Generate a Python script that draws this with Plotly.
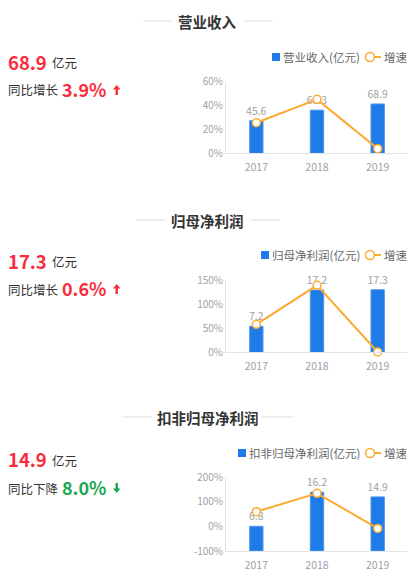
import plotly.graph_objects as go

# the page body keeps its default 8px margin, so the figure starts at (8, 8)
OFF = 8
W, H = 415 - OFF, 572 - OFF

years = ["2017", "2018", "2019"]

# 营业收入
revenue = [45.6, 60.3, 68.9]
revenue_growth = [25.6, 45.2, 3.9]
# 归母净利润
profit = [7.2, 17.2, 17.3]
profit_growth = [58.1, 139.0, 0.6]
# 扣非归母净利润
profit_ex = [6.8, 16.2, 14.9]
profit_ex_growth = [60.0, 135.0, -8.0]

titles = ["营业收入", "归母净利润", "扣非归母净利润"]
bar_names = ["营业收入(亿元)", "归母净利润(亿元)", "扣非归母净利润(亿元)"]
headline = ["68.9", "17.3", "14.9"]
change_word = ["同比增长", "同比增长", "同比下降"]
change_val = ["3.9%", "0.6%", "8.0%"]

FONT = "Noto Sans CJK SC"
BLUE = "#1f7be8"
ORANGE = "#fbab2f"
RED = "#fa2c3c"
GREEN = "#19a84f"
GREY = "#a0a0a8"

def px_x(x):
    return (x - OFF) / W

def px_y(y):
    return 1 - (y - OFF) / H

# pixel layout of each block (screen pixels)
blocks = [
    dict(title_y=21, lines=((143, 172), (244, 273)), legend_y=57, sq_x=272,
         plot=(81.7, 153.3), big_y=62, sub_y=90,
         prange=[0, 60], pticks=[0, 20, 40, 60], brange=[0, 100]),
    dict(title_y=220, lines=((136, 165), (251, 280)), legend_y=255, sq_x=261,
         plot=(280, 352.3), big_y=260.7, sub_y=289,
         prange=[0, 150], pticks=[0, 50, 100, 150], brange=[0, 20]),
    dict(title_y=417, lines=((123, 152), (262, 293)), legend_y=453, sq_x=238,
         plot=(477.3, 551), big_y=459, sub_y=488,
         prange=[-100, 200], pticks=[-100, 0, 100, 200], brange=[0, 20.3]),
]

bars = [revenue, profit, profit_ex]
growth = [revenue_growth, profit_growth, profit_ex_growth]
up = [True, True, False]

fig = go.Figure()
layout = dict(
    width=W, height=H, margin=dict(l=0, r=0, t=0, b=0, autoexpand=False),
    paper_bgcolor="white", plot_bgcolor="white", showlegend=False,
    font=dict(family=FONT, color="#333"),
    barmode="group", annotations=[], shapes=[],
)

def note(text, x, y, size, color, xanchor="left"):
    return dict(text=text, x=px_x(x), y=px_y(y), xref="paper", yref="paper",
                xanchor=xanchor, yanchor="middle", showarrow=False,
                font=dict(size=size, color=color))

def arrow(cx, cy, pointing_up, color):
    # small bold arrow: triangle head plus a short stem
    s = -1 if pointing_up else 1
    pts = [(cx, cy + s * 5), (cx + 3.8, cy + s * 0.5), (cx + 1.2, cy + s * 0.5),
           (cx + 1.2, cy - s * 5), (cx - 1.2, cy - s * 5), (cx - 1.2, cy + s * 0.5),
           (cx - 3.8, cy + s * 0.5)]
    path = "M " + " L ".join(f"{px_x(x):.5f},{px_y(y):.5f}" for x, y in pts) + " Z"
    return dict(type="path", xref="paper", yref="paper", path=path,
                fillcolor=color, line=dict(width=0))

for i, b in enumerate(blocks):
    n = i + 1
    xa = "x" if n == 1 else f"x{n}"
    yb = 2 * i + 1
    yl = 2 * i + 2
    yb_name = "y" if yb == 1 else f"y{yb}"
    yl_name = f"y{yl}"

    fig.add_trace(go.Bar(
        x=years, y=bars[i], name=bar_names[i], xaxis=xa, yaxis=yb_name,
        marker=dict(color=BLUE, line=dict(color="#4a97f0", width=1)),
        width=0.22, text=[str(v) for v in bars[i]], textposition="outside",
        constraintext="none", textfont=dict(color=GREY, size=10.5),
        cliponaxis=False,
    ))
    fig.add_trace(go.Scatter(
        x=years, y=growth[i], name="增速", xaxis=xa, yaxis=yl_name,
        mode="lines+markers", line=dict(color=ORANGE, width=2),
        marker=dict(size=8, color="white", line=dict(color=ORANGE, width=1.5)),
        cliponaxis=False,
    ))

    top, bottom = b["plot"]
    dom_y = [px_y(bottom), px_y(top)]
    xkey = "xaxis" if n == 1 else f"xaxis{n}"
    layout[xkey] = dict(
        domain=[px_x(226), px_x(408)], anchor=yb_name, type="category",
        showgrid=False, showline=True, linecolor="#e4e4e8", ticks="",
        ticklabelstandoff=4, tickfont=dict(size=10.5, color=GREY),
    )
    bkey = "yaxis" if yb == 1 else f"yaxis{yb}"
    layout[bkey] = dict(domain=dom_y, anchor=xa, range=b["brange"],
                        visible=False, showgrid=False)
    layout[f"yaxis{yl}"] = dict(
        domain=dom_y, anchor=xa, overlaying=yb_name, side="left",
        range=b["prange"], tickvals=b["pticks"],
        ticktext=[f"{v}%" for v in b["pticks"]],
        showgrid=False, zeroline=False, showline=True, linecolor="#e4e4e8",
        tickfont=dict(size=10, color=GREY),
    )

    # section title with side lines
    layout["annotations"].append(
        note(f"<b>{titles[i]}</b>", 207.5, b["title_y"], 14.5, "#333", "center"))
    for x0, x1 in b["lines"]:
        layout["shapes"].append(dict(
            type="line", xref="paper", yref="paper",
            x0=px_x(x0), x1=px_x(x1), y0=px_y(b["title_y"]), y1=px_y(b["title_y"]),
            line=dict(color="#dcdcdc", width=1),
        ))

    # legend drawn by hand to keep it compact
    ly = b["legend_y"]
    sq = b["sq_x"]
    layout["shapes"] += [
        dict(type="rect", xref="paper", yref="paper",
             x0=px_x(sq), x1=px_x(sq + 8), y0=px_y(ly + 4), y1=px_y(ly - 4),
             fillcolor=BLUE, line=dict(width=0)),
        dict(type="line", xref="paper", yref="paper",
             x0=px_x(370), x1=px_x(381), y0=px_y(ly), y1=px_y(ly),
             line=dict(color=ORANGE, width=2)),
        dict(type="circle", xref="paper", yref="paper",
             x0=px_x(365.5), x1=px_x(374.5), y0=px_y(ly + 4.5), y1=px_y(ly - 4.5),
             fillcolor="white", line=dict(color=ORANGE, width=1.5)),
    ]
    layout["annotations"] += [
        note(bar_names[i], 362, ly, 11.5, "#666", "right"),
        note("增速", 410, ly, 11.5, "#666", "right"),
    ]

    # left summary
    col = RED if up[i] else GREEN
    layout["annotations"] += [
        note(f"<b>{headline[i]}</b>", 6, b["big_y"], 18.5, RED),
        note("亿元", 49.5, b["big_y"] + 1, 12.5, "#333"),
        note(change_word[i], 6, b["sub_y"], 12.5, "#333"),
        note(f"<b>{change_val[i]}</b>", 60, b["sub_y"] - 1, 18, col),
    ]
    layout["shapes"].append(arrow(116.7, b["sub_y"], up[i], col))

fig.update_layout(**layout)
fig.write_html("out.html")
